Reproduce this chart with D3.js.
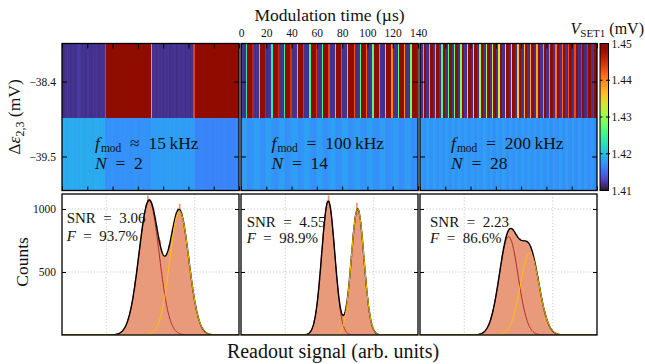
<!DOCTYPE html>
<html><head><meta charset="utf-8">
<script src="https://cdn.jsdelivr.net/npm/d3@7"></script>
<style>
body{margin:0;background:#fff}
svg{display:block}
</style>
</head><body>
<svg id="c" width="645" height="364"></svg>
<script>
// ---------------- data ----------------
const timeSpan = 140;                       // µs shown in each heat map
const timeTicks = [0,20,40,60,80,100,120,140];
const detuningTicks = [-38.4,-39.5];
const detuningEdges = [-40.0,-38.93,-37.84]; // row edges (mV)
const colorTicks = [1.41,1.42,1.43,1.44,1.45];
const countTicks = [500,1000];
const readoutGrid = [25,75];
const fmodText = ["\u2248 15 kHz","= 100 kHz","= 200 kHz"];
const nValues = [2,14,28];
const snrValues = ["3.06","4.55","2.23"];
const fidelityValues = ["93.7","98.9","86.6"];

// V_SET1 (mV) per 1 µs column, upper row (Δε = -38.4) and lower row (Δε = -39.5)
const p1Top = [
1.4118,1.4116,1.4119,1.4117,1.4120,1.4118,1.4116,1.4117,1.4119,1.4118,
1.4116,1.4118,1.4121,1.4123,1.4120,1.4118,1.4117,1.4119,1.4116,1.4118,
1.4120,1.4117,1.4118,1.4116,1.4119,1.4117,1.4118,1.4120,1.4117,1.4116,
1.4118,1.4119,1.4117,1.4118,
1.4438,
1.4494,1.4496,1.4493,1.4495,1.4497,1.4494,1.4492,1.4495,1.4496,1.4494,
1.4493,1.4495,1.4497,1.4494,1.4496,1.4495,1.4493,1.4494,1.4496,1.4495,
1.4497,1.4494,1.4493,1.4495,1.4496,1.4494,1.4495,1.4493,1.4497,1.4495,
1.4494,1.4496,1.4493,1.4495,1.4494,
1.4232,
1.4117,1.4119,1.4118,1.4116,1.4118,1.4120,1.4117,1.4119,1.4118,1.4116,
1.4119,1.4117,1.4118,1.4120,1.4116,1.4118,1.4117,1.4119,1.4118,1.4116,
1.4117,1.4119,1.4118,1.4117,1.4120,1.4118,1.4116,1.4119,1.4117,1.4118,
1.4116,1.4119,1.4117,
1.4436,
1.4495,1.4493,1.4496,1.4494,1.4497,1.4495,1.4493,1.4494,1.4496,1.4495,
1.4494,1.4496,1.4493,1.4495,1.4497,1.4494,1.4495,1.4496,1.4493,1.4495,
1.4494,1.4497,1.4495,1.4493,1.4496,1.4494,1.4495,1.4493,1.4496,1.4494,
1.4495,1.4497,1.4494,1.4496,1.4495];
const p1Bottom = [
1.4188,1.4190,1.4187,1.4189,1.4186,1.4188,1.4191,1.4187,1.4189,1.4188,
1.4186,1.4190,1.4188,1.4187,1.4189,1.4191,1.4188,1.4186,1.4189,1.4187,
1.4190,1.4188,1.4187,1.4189,1.4186,1.4188,1.4190,1.4187,1.4189,1.4188,
1.4186,1.4189,1.4187,1.4188,
1.4173,1.4172,1.4174,1.4171,1.4173,1.4175,1.4172,1.4173,1.4174,1.4171,
1.4173,1.4172,1.4174,1.4173,1.4171,1.4175,1.4173,1.4172,1.4174,1.4173,
1.4171,1.4172,1.4174,1.4173,1.4175,1.4172,1.4173,1.4171,1.4174,1.4173,
1.4172,1.4174,1.4173,1.4171,1.4173,1.4172,
1.4180,1.4179,1.4181,1.4178,1.4180,1.4182,1.4179,1.4180,1.4181,1.4178,
1.4180,1.4179,1.4181,1.4180,1.4178,1.4182,1.4180,1.4179,1.4181,1.4180,
1.4178,1.4179,1.4181,1.4180,1.4182,1.4179,1.4180,1.4178,1.4181,1.4180,
1.4179,1.4181,1.4180,1.4178,1.4180,
1.4166,1.4165,1.4167,1.4164,1.4166,1.4168,1.4165,1.4166,1.4167,1.4164,
1.4166,1.4165,1.4167,1.4166,1.4164,1.4168,1.4166,1.4165,1.4167,1.4166,
1.4164,1.4165,1.4167,1.4166,1.4168,1.4165,1.4166,1.4164,1.4167,1.4166,
1.4165,1.4167,1.4166,1.4164,1.4166];

const p2Top = [
1.4117,1.4119,1.4116,1.4118,1.4232,1.4494,1.4496,1.4493,1.4495,1.4458,
1.4118,1.4116,1.4119,1.4117,1.4236,1.4495,1.4493,1.4496,1.4494,1.4455,
1.4116,1.4118,1.4117,1.4119,1.4240,1.4496,1.4494,1.4495,1.4493,1.4451,
1.4119,1.4117,1.4118,1.4116,1.4243,1.4493,1.4495,1.4494,1.4496,1.4447,
1.4117,1.4118,1.4116,1.4119,1.4247,1.4495,1.4496,1.4493,1.4494,1.4443,
1.4118,1.4117,1.4119,1.4116,1.4250,1.4494,1.4493,1.4495,1.4496,1.4440,
1.4116,1.4119,1.4117,1.4118,1.4253,1.4496,1.4495,1.4494,1.4493,1.4436,
1.4119,1.4116,1.4118,1.4117,1.4256,1.4493,1.4494,1.4496,1.4495,1.4432,
1.4117,1.4118,1.4119,1.4116,1.4259,1.4495,1.4493,1.4494,1.4496,1.4427,
1.4118,1.4116,1.4117,1.4119,1.4262,1.4494,1.4496,1.4495,1.4493,1.4420,
1.4116,1.4117,1.4118,1.4119,1.4265,1.4496,1.4494,1.4493,1.4495,1.4410,
1.4119,1.4118,1.4116,1.4117,1.4268,1.4493,1.4495,1.4496,1.4494,1.4402,
1.4117,1.4119,1.4118,1.4116,1.4271,1.4495,1.4493,1.4494,1.4496,1.4395,
1.4118,1.4117,1.4119,1.4116,1.4274,1.4494,1.4496,1.4495,1.4493,1.4380];
const p2Bottom = [
1.4182,1.4180,1.4183,1.4181,1.4177,1.4173,1.4171,1.4174,1.4172,1.4176,
1.4181,1.4183,1.4180,1.4182,1.4178,1.4172,1.4174,1.4171,1.4173,1.4175,
1.4183,1.4181,1.4182,1.4180,1.4176,1.4174,1.4172,1.4173,1.4171,1.4177,
1.4180,1.4182,1.4181,1.4183,1.4177,1.4171,1.4173,1.4172,1.4174,1.4176,
1.4182,1.4181,1.4180,1.4182,1.4178,1.4173,1.4171,1.4174,1.4172,1.4175,
1.4181,1.4183,1.4182,1.4180,1.4177,1.4172,1.4174,1.4173,1.4171,1.4176,
1.4183,1.4180,1.4181,1.4182,1.4176,1.4174,1.4172,1.4171,1.4173,1.4177,
1.4180,1.4182,1.4183,1.4181,1.4177,1.4171,1.4173,1.4174,1.4172,1.4176,
1.4182,1.4181,1.4180,1.4183,1.4178,1.4173,1.4172,1.4171,1.4174,1.4175,
1.4181,1.4180,1.4182,1.4181,1.4177,1.4172,1.4174,1.4173,1.4171,1.4176,
1.4180,1.4182,1.4181,1.4180,1.4176,1.4171,1.4173,1.4172,1.4170,1.4175,
1.4181,1.4180,1.4179,1.4181,1.4177,1.4170,1.4172,1.4171,1.4173,1.4174,
1.4179,1.4181,1.4180,1.4179,1.4175,1.4171,1.4170,1.4172,1.4171,1.4174,
1.4180,1.4179,1.4181,1.4180,1.4176,1.4169,1.4171,1.4170,1.4172,1.4175];

const p3Top = [
1.4117,1.4119,1.4229,1.4494,1.4496, 1.4118,1.4116,1.4240,1.4495,1.4493,
1.4116,1.4118,1.4246,1.4496,1.4494, 1.4119,1.4117,1.4258,1.4493,1.4495,
1.4117,1.4118,1.4263,1.4495,1.4496, 1.4118,1.4117,1.4275,1.4494,1.4493,
1.4116,1.4119,1.4280,1.4496,1.4495, 1.4119,1.4116,1.4291,1.4493,1.4494,
1.4117,1.4118,1.4296,1.4495,1.4493, 1.4118,1.4116,1.4308,1.4494,1.4496,
1.4116,1.4117,1.4313,1.4496,1.4494, 1.4119,1.4118,1.4325,1.4493,1.4495,
1.4117,1.4119,1.4330,1.4495,1.4493, 1.4118,1.4117,1.4342,1.4494,1.4496,
1.4116,1.4119,1.4347,1.4496,1.4495, 1.4119,1.4116,1.4359,1.4493,1.4494,
1.4117,1.4118,1.4364,1.4495,1.4493, 1.4118,1.4116,1.4376,1.4494,1.4496,
1.4116,1.4117,1.4381,1.4496,1.4494, 1.4119,1.4118,1.4393,1.4493,1.4495,
1.4117,1.4119,1.4398,1.4495,1.4493, 1.4118,1.4117,1.4410,1.4494,1.4496,
1.4116,1.4119,1.4415,1.4496,1.4495, 1.4119,1.4116,1.4427,1.4493,1.4494,
1.4117,1.4118,1.4432,1.4495,1.4493, 1.4118,1.4116,1.4444,1.4494,1.4496,
1.4116,1.4117,1.4449,1.4496,1.4494, 1.4119,1.4118,1.4461,1.4493,1.4495];
const p3Bottom = [
1.4182,1.4180,1.4177,1.4173,1.4172, 1.4181,1.4182,1.4176,1.4172,1.4174,
1.4183,1.4181,1.4178,1.4174,1.4171, 1.4180,1.4182,1.4177,1.4171,1.4173,
1.4182,1.4181,1.4176,1.4173,1.4172, 1.4181,1.4183,1.4177,1.4172,1.4174,
1.4183,1.4180,1.4178,1.4174,1.4173, 1.4180,1.4182,1.4176,1.4171,1.4172,
1.4182,1.4181,1.4177,1.4173,1.4171, 1.4181,1.4180,1.4176,1.4172,1.4174,
1.4183,1.4182,1.4177,1.4174,1.4172, 1.4180,1.4181,1.4176,1.4171,1.4173,
1.4182,1.4180,1.4175,1.4173,1.4172, 1.4181,1.4182,1.4176,1.4172,1.4171,
1.4180,1.4181,1.4175,1.4174,1.4173, 1.4182,1.4180,1.4175,1.4171,1.4172,
1.4181,1.4182,1.4174,1.4173,1.4171, 1.4180,1.4181,1.4175,1.4172,1.4173,
1.4182,1.4180,1.4174,1.4171,1.4172, 1.4181,1.4179,1.4174,1.4173,1.4171,
1.4179,1.4181,1.4173,1.4172,1.4170, 1.4180,1.4179,1.4174,1.4170,1.4172,
1.4181,1.4180,1.4173,1.4171,1.4170, 1.4179,1.4181,1.4173,1.4172,1.4171,
1.4180,1.4179,1.4172,1.4170,1.4171, 1.4181,1.4180,1.4172,1.4171,1.4169,
1.4179,1.4180,1.4172,1.4170,1.4171, 1.4180,1.4179,1.4171,1.4169,1.4170];

// Readout histograms: counts per unit-wide bin, first bin edge in histStart
const histStart = [30,36,31];
const hist1 = [4,10,14,26,36,61,86,133,179,256,327,436,528,655,751,872,947,1034,1108,1082,
1046,1012,931,868,776,752,668,624,636,648,710,761,848,902,972,1003,1041,975,903,836,
722,626,503,411,306,236,161,118,74,52,30,20,10,7,3,1];
const hist2 = [2,8,14,34,60,118,192,318,452,634,806,951,1052,1108,1016,884,740,553,409,271,
197,160,166,236,331,486,636,811,938,1050,992,899,779,601,448,293,190,105,60,27,14,5,2];
const hist3 = [1,4,5,11,17,31,44,73,103,155,205,284,357,455,536,634,702,779,826,852,
838,846,808,801,766,768,742,756,739,748,720,706,652,611,529,468,380,314,236,184,
128,94,60,42,25,17,8,5,3,1];
// two-Gaussian fits: [amplitude, centre, width]
const fitLow  = [[1065,49.2,5.7],[1063,49.3,3.7],[780,50.1,5.3]];
const fitHigh = [[985,66.3,5.4],[1000,65.9,3.6],[653,62.0,5.3]];

// ---------------- layout ----------------
const FONT = '"Liberation Serif","Times New Roman",serif';
const INK = "#111";
const svg = d3.select("#c");
const panelsX = [[62,239],[241,418],[420,597]];
const topY = [43.5,190.5], botY = [194,335];
const cbX = [600,608.5];
const annX = [33,30.5,31];
const snrPos = [[4.7,223.3,240.7],[5.7,226.7,243.3],[10,226.7,243.3]];

const color = d3.scaleSequential(d3.interpolateTurbo).domain([1.41,1.45]).clamp(true);
const yDet = d3.scaleLinear().domain([detuningEdges[0],detuningEdges[2]]).range([topY[1],topY[0]]);
const yCount = d3.scaleLinear().domain([0,1119]).range([botY[1],botY[0]]);
const yColor = d3.scaleLinear().domain([1.41,1.45]).range([topY[1],topY[0]]);
const heatTop = [p1Top,p2Top,p3Top], heatBottom = [p1Bottom,p2Bottom,p3Bottom];
const hists = [hist1,hist2,hist3];

function styleAxis(g,size){
  g.select(".domain").remove();
  g.attr("font-family",null).attr("font-size",null);
  g.selectAll(".tick line").attr("stroke","#000").attr("stroke-width",1);
  g.selectAll("text").attr("font-family",FONT).attr("font-size",size).attr("fill",INK);
}

const defs = svg.append("defs");

panelsX.forEach(([x0,x1],p)=>{
  // ---------- heat map ----------
  const xT = d3.scaleLinear().domain([0,timeSpan]).range([x0,x1]);
  const rows = [
    {vals:heatTop[p], lo:detuningEdges[1], hi:detuningEdges[2]},
    {vals:heatBottom[p], lo:detuningEdges[0], hi:detuningEdges[1]}];
  const gh = svg.append("g");
  rows.forEach(r=>{
    const step = timeSpan/r.vals.length;
    const yTop = Math.round(yDet(r.hi)), yBot = Math.round(yDet(r.lo));
    gh.selectAll(null).data(r.vals).join("rect")
      .attr("x",(d,i)=>Math.round(xT(i*step)))
      .attr("width",(d,i)=>Math.round(xT((i+1)*step))-Math.round(xT(i*step)))
      .attr("y",yTop).attr("height",yBot-yTop)
      .attr("fill",d=>color(d)).attr("shape-rendering","crispEdges");
  });
  svg.append("rect").attr("x",x0).attr("y",topY[0]).attr("width",x1-x0).attr("height",topY[1]-topY[0])
    .attr("fill","none").attr("stroke","#000").attr("stroke-width",1.3);
  styleAxis(svg.append("g").attr("transform",`translate(0,${topY[1]})`)
    .call(d3.axisBottom(xT).tickValues(timeTicks).tickSizeInner(-4).tickSizeOuter(0).tickFormat("")),11.5);
  styleAxis(svg.append("g").attr("transform",`translate(0,${topY[0]})`)
    .call(d3.axisTop(xT).tickValues(timeTicks).tickSizeInner(-5).tickSizeOuter(0).tickPadding(6.5)
      .tickFormat(p===1 ? d3.format("d") : "")),11.5);
  styleAxis(svg.append("g").attr("transform",`translate(${x0},0)`)
    .call(d3.axisLeft(yDet).tickValues(detuningTicks).tickSizeInner(-5).tickSizeOuter(0).tickPadding(6)
      .tickFormat(p===0 ? d3.format(".1f") : "")),11.5);
  styleAxis(svg.append("g").attr("transform",`translate(${x1},0)`)
    .call(d3.axisRight(yDet).tickValues(detuningTicks).tickSizeInner(-5).tickSizeOuter(0).tickFormat("")),11.5);

  // annotation
  const ta = svg.append("text").attr("x",x0+annX[p]).attr("y",148.5)
    .attr("font-family",FONT).attr("font-size",17.5).attr("fill",INK);
  ta.append("tspan").attr("font-style","italic").text("f");
  ta.append("tspan").attr("font-size",11.5).attr("dy",3).attr("dx",1).text("mod");
  ta.append("tspan").attr("dy",-3).text("\u2002"+fmodText[p].replace(" ","\u2002").replace(" kHz","\u2009kHz"));
  const tn = svg.append("text").attr("x",x0+annX[p]).attr("y",169)
    .attr("font-family",FONT).attr("font-size",17.5).attr("fill",INK);
  tn.append("tspan").attr("font-style","italic").text("N");
  tn.append("tspan").text("\u2002=\u2002"+nValues[p]);

  // ---------- histogram ----------
  const xR = d3.scaleLinear().domain([0,100]).range([x0,x1]);
  const clipId = "clip"+p;
  defs.append("clipPath").attr("id",clipId).append("rect")
    .attr("x",x0).attr("y",botY[0]).attr("width",x1-x0).attr("height",botY[1]-botY[0]);
  const gp = svg.append("g").attr("clip-path",`url(#${clipId})`);
  gp.selectAll(null).data(readoutGrid).join("line")
    .attr("x1",d=>xR(d)).attr("x2",d=>xR(d)).attr("y1",botY[0]).attr("y2",botY[1])
    .attr("stroke","#bdbdbd").attr("stroke-width",0.8).attr("stroke-dasharray","1.2,2");
  gp.selectAll(null).data(countTicks).join("line")
    .attr("x1",x0).attr("x2",x1).attr("y1",d=>yCount(d)).attr("y2",d=>yCount(d))
    .attr("stroke","#bdbdbd").attr("stroke-width",0.8).attr("stroke-dasharray","1.2,2");

  const counts = hists[p];
  const pts = counts.map((c,i)=>({u:histStart[p]+i,c}));
  pts.push({u:histStart[p]+counts.length,c:0});
  gp.append("path").datum(pts)
    .attr("d",d3.area().curve(d3.curveStepAfter).x(d=>xR(d.u)).y0(yCount(0)).y1(d=>yCount(d.c)))
    .attr("fill","#e99a7a");

  const gauss = (x,[a,m,s]) => a*Math.exp(-((x-m)*(x-m))/(2*s*s));
  const xs = d3.range(0,100.001,0.2);
  const line = d3.line().x(d=>xR(d[0])).y(d=>yCount(d[1]));
  gp.append("path").attr("d",line(xs.map(x=>[x,gauss(x,fitLow[p])])))
    .attr("fill","none").attr("stroke","#b02a2a").attr("stroke-width",1);
  gp.append("path").attr("d",line(xs.map(x=>[x,gauss(x,fitLow[p])+gauss(x,fitHigh[p])])))
    .attr("fill","none").attr("stroke","#000").attr("stroke-width",1.4);
  gp.append("path").attr("d",line(xs.map(x=>[x,gauss(x,fitHigh[p])])))
    .attr("fill","none").attr("stroke","#ffc400").attr("stroke-width",1);

  svg.append("rect").attr("x",x0).attr("y",botY[0]).attr("width",x1-x0).attr("height",botY[1]-botY[0])
    .attr("fill","none").attr("stroke","#000").attr("stroke-width",1.3);
  styleAxis(svg.append("g").attr("transform",`translate(${x0},0)`)
    .call(d3.axisLeft(yCount).tickValues(countTicks).tickSizeInner(-4).tickSizeOuter(0).tickPadding(6)
      .tickFormat(p===0 ? d3.format("d") : "")),11.5);
  styleAxis(svg.append("g").attr("transform",`translate(${x1},0)`)
    .call(d3.axisRight(yCount).tickValues(countTicks).tickSizeInner(-4).tickSizeOuter(0).tickFormat("")),11.5);

  const [dx,yS,yF] = snrPos[p];
  svg.append("text").attr("x",x0+dx).attr("y",yS).attr("font-family",FONT).attr("font-size",15)
    .attr("fill",INK).text("SNR\u2002=\u2002"+snrValues[p]);
  const tf = svg.append("text").attr("x",x0+dx).attr("y",yF).attr("font-family",FONT).attr("font-size",15).attr("fill",INK);
  tf.append("tspan").attr("font-style","italic").text("F");
  tf.append("tspan").text("\u2002=\u2002"+fidelityValues[p]+"%");
});

// ---------- colour bar ----------
const grad = defs.append("linearGradient").attr("id","cbar").attr("x1",0).attr("y1",1).attr("x2",0).attr("y2",0);
d3.range(0,1.0001,0.02).forEach(t=>grad.append("stop").attr("offset",t).attr("stop-color",d3.interpolateTurbo(t)));
svg.append("rect").attr("x",cbX[0]).attr("y",topY[0]).attr("width",cbX[1]-cbX[0]).attr("height",topY[1]-topY[0])
  .attr("fill","url(#cbar)").attr("stroke","#000").attr("stroke-width",1);
styleAxis(svg.append("g").attr("transform",`translate(${cbX[1]},0)`)
  .call(d3.axisRight(yColor).tickValues(colorTicks).tickSizeInner(0).tickSizeOuter(0).tickPadding(3).tickFormat(d3.format(".2f"))),11.5);
svg.selectAll(null).data(colorTicks.slice(1,-1)).join("line")
  .attr("x1",cbX[0]).attr("x2",cbX[0]+2.5).attr("y1",d=>yColor(d)).attr("y2",d=>yColor(d)).attr("stroke","#000");
svg.selectAll(null).data(colorTicks.slice(1,-1)).join("line")
  .attr("x1",cbX[1]-2.5).attr("x2",cbX[1]+1.5).attr("y1",d=>yColor(d)).attr("y2",d=>yColor(d)).attr("stroke","#000");

// ---------- titles ----------
svg.append("text").attr("x",(panelsX[1][0]+panelsX[1][1])/2).attr("y",20.5).attr("text-anchor","middle")
  .attr("font-family",FONT).attr("font-size",17.5).attr("fill",INK).text("Modulation time (\u00b5s)");
const tv = svg.append("text").attr("x",644).attr("y",33.5).attr("text-anchor","end")
  .attr("font-family",FONT).attr("font-size",16).attr("fill",INK);
tv.append("tspan").attr("font-style","italic").text("V");
tv.append("tspan").attr("font-size",11).attr("dy",3.5).text("SET1");
tv.append("tspan").attr("dy",-3.5).text(" (mV)");

const td = svg.append("text").attr("transform","translate(20,117) rotate(-90)").attr("text-anchor","middle")
  .attr("font-family",FONT).attr("font-size",17.5).attr("fill",INK);
td.append("tspan").text("\u0394");
td.append("tspan").attr("font-style","italic").text("\u03b5");
td.append("tspan").attr("font-size",12).attr("dy",4).text("2,3");
td.append("tspan").attr("dy",-4).text(" (mV)");

svg.append("text").attr("transform","translate(28,262) rotate(-90)").attr("text-anchor","middle")
  .attr("font-family",FONT).attr("font-size",17.5).attr("fill",INK).text("Counts");
svg.append("text").attr("x",333).attr("y",357.5).attr("text-anchor","middle")
  .attr("font-family",FONT).attr("font-size",20).attr("fill",INK).text("Readout signal (arb. units)");
</script>
</body></html>
